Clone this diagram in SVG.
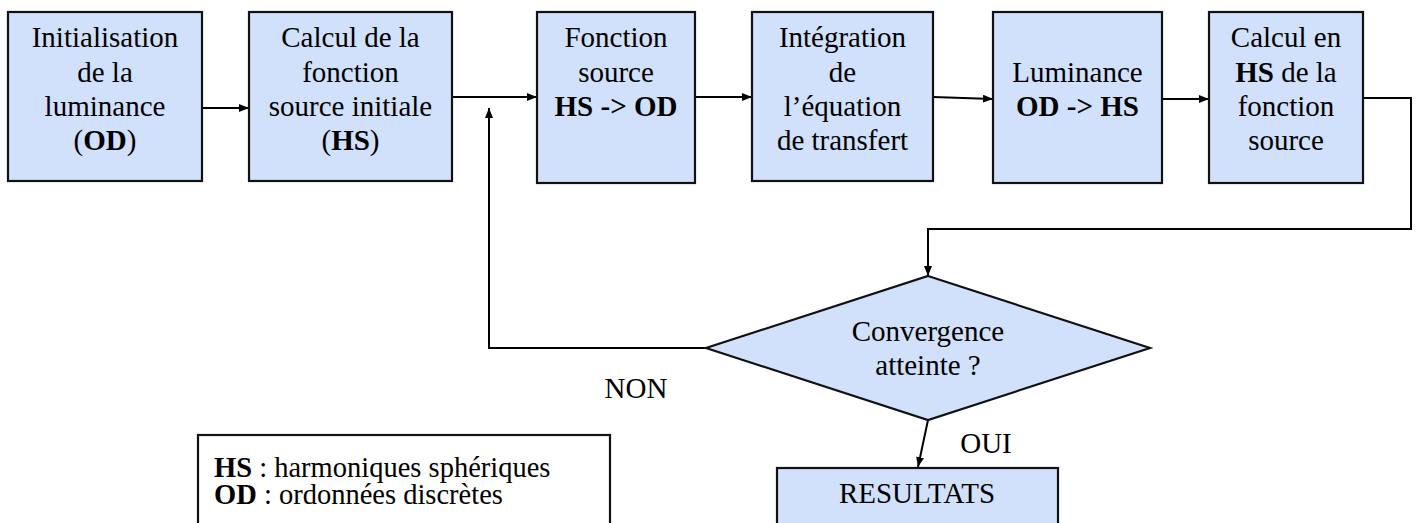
<svg xmlns="http://www.w3.org/2000/svg" width="1418" height="523" viewBox="0 0 1418 523" font-family="'Liberation Serif', 'Times New Roman', Tinos, 'DejaVu Serif', serif">
<style>
.box{fill:#D1E0FB;stroke:#111;stroke-width:2.2}
.leg{fill:#fff;stroke:#111;stroke-width:2.2}
.t{font-family:'Liberation Serif','Times New Roman',Tinos,'DejaVu Serif',serif;font-size:29px;fill:#000;text-anchor:middle}
.tl{font-family:'Liberation Serif','Times New Roman',Tinos,'DejaVu Serif',serif;font-size:28.5px;fill:#000}
.b{font-weight:bold}
.c{fill:none;stroke:#000;stroke-width:2}
</style>
<defs>
<marker id="ah" markerWidth="10" markerHeight="8" refX="10" refY="4" orient="auto" markerUnits="userSpaceOnUse">
<path d="M0,0 L10,4 L0,8 z" fill="#000"/>
</marker>
</defs>
<g id="connectors">
<path class="c" d="M202,108 L249,108" marker-end="url(#ah)"/>
<path class="c" d="M452,97 L537,97" marker-end="url(#ah)"/>
<path class="c" d="M695,97 L752,97" marker-end="url(#ah)"/>
<path class="c" d="M933,97 L993,99" marker-end="url(#ah)"/>
<path class="c" d="M1162,99 L1209,99" marker-end="url(#ah)"/>
<path class="c" d="M1363,98 L1411,98 L1411,229 L928,229 L928,276" marker-end="url(#ah)"/>
<path class="c" d="M706,348 L489,348 L489,108" marker-end="url(#ah)"/>
<path class="c" d="M928,420 L918,467" marker-end="url(#ah)"/>
</g>
<g id="n1">
<rect class="box" x="8" y="12" width="194" height="169"/>
<text class="t" x="105" y="47">Initialisation</text>
<text class="t" x="105" y="82">de la</text>
<text class="t" x="105" y="116">luminance</text>
<text class="t" x="105" y="150">(<tspan class="b">OD</tspan>)</text>
</g>
<g id="n2">
<rect class="box" x="249" y="12" width="203" height="169"/>
<text class="t" x="350.5" y="47">Calcul de la</text>
<text class="t" x="350.5" y="82">fonction</text>
<text class="t" x="350.5" y="116">source initiale</text>
<text class="t" x="350.5" y="150">(<tspan class="b">HS</tspan>)</text>
</g>
<g id="n3">
<rect class="box" x="537" y="12" width="158" height="171"/>
<text class="t" x="616" y="47">Fonction</text>
<text class="t" x="616" y="82">source</text>
<text class="t b" x="616" y="116">HS -&gt; OD</text>
</g>
<g id="n4">
<rect class="box" x="752" y="12" width="181" height="169"/>
<text class="t" x="842.5" y="47">Intégration</text>
<text class="t" x="842.5" y="82">de</text>
<text class="t" x="842.5" y="116">l’équation</text>
<text class="t" x="842.5" y="150">de transfert</text>
</g>
<g id="n5">
<rect class="box" x="993" y="12" width="169" height="171"/>
<text class="t" x="1077.5" y="82">Luminance</text>
<text class="t b" x="1077.5" y="116">OD -&gt; HS</text>
</g>
<g id="n6">
<rect class="box" x="1209" y="12" width="154" height="171"/>
<text class="t" x="1286" y="47">Calcul en</text>
<text class="t" x="1286" y="82"><tspan class="b">HS</tspan> de la</text>
<text class="t" x="1286" y="116">fonction</text>
<text class="t" x="1286" y="150">source</text>
</g>
<g id="n7">
<polygon class="box" points="928,276 1150,348 928,420 706,348"/>
<text class="t" x="928" y="341">Convergence</text>
<text class="t" x="928" y="375">atteinte ?</text>
</g>
<g id="labels">
<text class="t" x="636" y="398">NON</text>
<text class="t" x="986" y="453">OUI</text>
</g>
<g id="n8">
<rect class="box" x="777" y="468" width="281" height="80"/>
<text class="t" x="917" y="503">RESULTATS</text>
</g>
<g id="legend">
<rect class="leg" x="198" y="435" width="412" height="110"/>
<text class="tl" x="214" y="477"><tspan class="b">HS</tspan> : harmoniques sphériques</text>
<text class="tl" x="214" y="504"><tspan class="b">OD</tspan> : ordonnées discrètes</text>
</g>
</svg>
